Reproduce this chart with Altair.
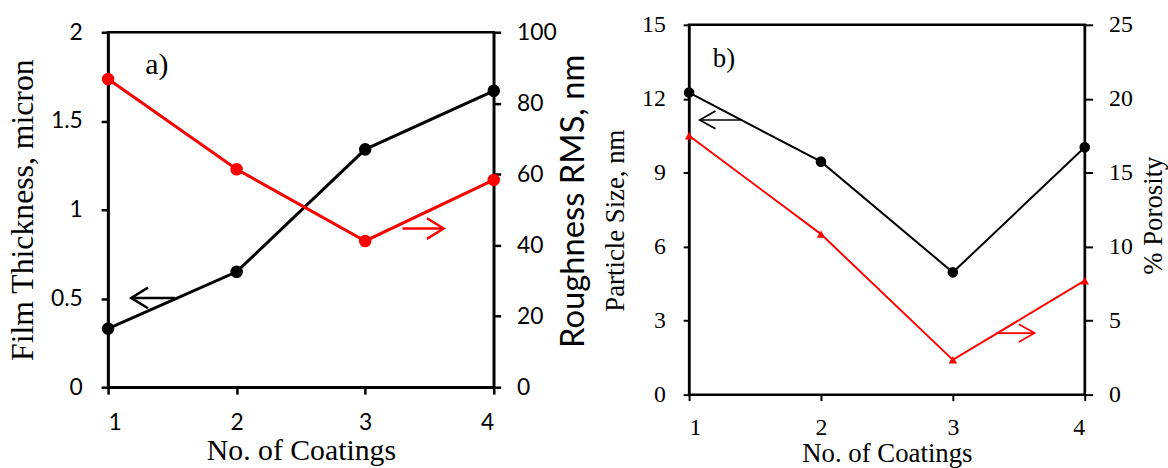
import altair as alt
import pandas as pd

# ---- data ----
coatings = [1, 2, 3, 4]
film_thickness = [0.33, 0.65, 1.34, 1.67]      # micron (left axis, panel a)
roughness_rms = [86.8, 61.4, 41.2, 58.4]       # nm (right axis, panel a)
particle_size = [12.25, 9.45, 4.96, 10.03]     # nm (left axis, panel b)
porosity = [17.5, 10.85, 2.35, 7.7]            # % (right axis, panel b)

thick_ticks = [0, 0.5, 1, 1.5, 2]
rough_ticks = [0, 20, 40, 60, 80, 100]
size_ticks = [0, 3, 6, 9, 12, 15]
poro_ticks = [0, 5, 10, 15, 20, 25]

# arrow annotations: (tip_x, tail_x, y, head_dx, head_dy) in data units
arrow_a_black = (1.18, 1.52, 0.503, 0.13, 0.058)
arrow_a_red = (3.61, 3.29, 44.7, -0.13, 2.9)
arrow_b_black = (1.08, 1.39, 11.14, 0.12, 0.36)
arrow_b_red = (3.62, 3.33, 4.16, -0.12, 0.6)

SANS = "Lato"
SERIF = "Liberation Serif"
RED = "#ff0000"


def arrow_df(spec):
    tip, tail, y, dx, dy = spec
    rows = [
        {"coat": tail, "v": y, "seg": "shaft", "o": 0},
        {"coat": tip, "v": y, "seg": "shaft", "o": 1},
        {"coat": tip + dx, "v": y + dy, "seg": "head", "o": 0},
        {"coat": tip, "v": y, "seg": "head", "o": 1},
        {"coat": tip + dx, "v": y - dy, "seg": "head", "o": 2},
    ]
    return pd.DataFrame(rows)


df_a = pd.DataFrame({"coat": coatings, "thick": film_thickness, "rough": roughness_rms})
df_b = pd.DataFrame({"coat": coatings, "size": particle_size, "poro": porosity})

XSCALE = alt.Scale(domain=[1, 4], nice=False, zero=False)


def x_axis(label_font, label_size, title_size, label_pad, title_pad, width, tick_size):
    return alt.Axis(
        values=coatings, format="d", title="No. of Coatings",
        labelFont=label_font, labelFontSize=label_size, labelColor="black",
        titleFont=SERIF, titleFontSize=title_size, titleFontWeight="normal",
        titleColor="black", titlePadding=title_pad,
        domainColor="black", domainWidth=width, tickColor="black",
        tickWidth=width, tickSize=tick_size, labelPadding=label_pad, grid=False,
    )


def y_axis(values, title, orient, label_font, label_size, title_font, title_size,
           label_pad, title_pad, width, tick_size=7, title_y=None):
    kw = dict(
        values=values, format="~r", title=title, orient=orient,
        labelFont=label_font, labelFontSize=label_size, labelColor="black",
        titleFont=title_font, titleFontSize=title_size, titleFontWeight="normal",
        titleColor="black", titlePadding=title_pad, titleAngle=270,
        domainColor="black", domainWidth=width, tickColor="black",
        tickWidth=width, tickSize=tick_size, labelPadding=label_pad, grid=False,
    )
    kw["titleBaseline"] = "top" if orient == "right" else "bottom"
    if title_y is not None:
        kw["titleY"] = title_y
    return alt.Axis(**kw)


def make_panel(df, f_left, f_right, sc_left, sc_right, ax_x, ax_left, ax_right,
               lw, pt_size_l, pt_size_r, right_shape, arr_l, arr_r, label, label_pos,
               label_size, w, h):
    X = alt.X("coat:Q", scale=XSCALE, axis=ax_x)
    YL = lambda f: alt.Y(f"{f}:Q", scale=sc_left, axis=ax_left)
    YR = lambda f: alt.Y(f"{f}:Q", scale=sc_right, axis=ax_right)
    base = alt.Chart(df)
    l_line = base.mark_line(color="black", strokeWidth=lw).encode(x=X, y=YL(f_left))
    l_pts = base.mark_circle(color="black", size=pt_size_l, opacity=1).encode(x=X, y=YL(f_left))
    l_arr = alt.Chart(arrow_df(arr_l)).mark_line(color="black", strokeWidth=lw * 0.85).encode(
        x=X, y=YL("v"), detail="seg:N", order="o:Q")
    txt = alt.Chart(pd.DataFrame({"coat": [label_pos[0]], "v": [label_pos[1]], "t": [label]})).mark_text(
        font=SERIF, fontSize=label_size, align="left", baseline="alphabetic", color="black").encode(
        x=X, y=YL("v"), text="t:N")
    r_line = base.mark_line(color=RED, strokeWidth=lw).encode(x=X, y=YR(f_right))
    if right_shape == "circle":
        r_pts = base.mark_circle(color=RED, size=pt_size_r, opacity=1).encode(x=X, y=YR(f_right))
    else:
        r_pts = base.mark_point(shape=right_shape, color=RED, filled=True, size=pt_size_r,
                                opacity=1).encode(x=X, y=YR(f_right))
    r_arr = alt.Chart(arrow_df(arr_r)).mark_line(color=RED, strokeWidth=lw * 0.85).encode(
        x=X, y=YR("v"), detail="seg:N", order="o:Q")
    return alt.layer(
        alt.layer(l_line, l_pts, l_arr, txt),
        alt.layer(r_line, r_pts, r_arr),
    ).resolve_scale(y="independent").properties(width=w, height=h)


panel_a = make_panel(
    df_a, "thick", "rough",
    alt.Scale(domain=[0, 2], nice=False, zero=False),
    alt.Scale(domain=[0, 100], nice=False, zero=False),
    x_axis(SANS, 23, 30, 18, 1, 2.5, 7),
    y_axis(thick_ticks, "Film Thickness,  micron", "left", SANS, 23, SERIF, 32, 19, 11, 2.5),
    y_axis(rough_ticks, "Roughness RMS, nm", "right", SANS, 23, SANS, 33, 16, 1, 2.5,
           title_y=170),
    3, 160, 160, "circle", arrow_a_black, arrow_a_red, "a)", (1.29, 1.765), 30, 389, 358,
)

panel_b = make_panel(
    df_b, "size", "poro",
    alt.Scale(domain=[0, 15], nice=False, zero=False),
    alt.Scale(domain=[0, 25], nice=False, zero=False),
    x_axis(SERIF, 24, 27, 15, 1, 2, 6),
    y_axis(size_ticks, "Particle Size, nm", "left", SERIF, 24, SERIF, 27, 18, 12, 2,
           tick_size=6, title_y=197),
    y_axis(poro_ticks, "% Porosity", "right", SERIF, 24, SERIF, 27, 16, 8, 2,
           tick_size=8, title_y=192),
    2, 115, 75, "triangle-up", arrow_b_black, arrow_b_red, "b)", (1.18, 13.27), 27, 399, 373,
)

chart = alt.hconcat(panel_a, panel_b, spacing=197, bounds="flush", center=True).properties(
    padding={"left": 5, "top": 9, "right": 0, "bottom": 0},
    background="white",
).configure_view(stroke="black", strokeWidth=2.5)

chart.save("out.html", embed_options={"renderer": "svg", "actions": False})
